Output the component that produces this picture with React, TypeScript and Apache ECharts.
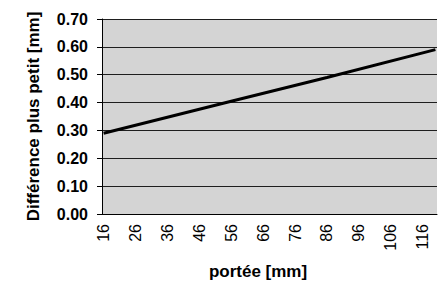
import React, { useEffect, useRef } from "react";
import * as echarts from "echarts";

// categories: span in mm, 16..120 (one tick per mm)
const spans: string[] = [];
for (let s = 16; s <= 120; s++) spans.push(String(s));

// values (straight line)
const lineSpans = ["16", "56", "86", "120"];
const lineValues = [0.29, 0.405, 0.49, 0.59];

const FONT = "Liberation Sans, Arial, sans-serif";

export default function App() {
  const ref = useRef<HTMLDivElement>(null);
  useEffect(() => {
    if (!ref.current) return;
    const chart = echarts.init(ref.current, null, { renderer: "svg" });
    chart.setOption({
      animation: false,
      backgroundColor: "#ffffff",
      grid: {
        left: 102,
        right: 2,
        top: 19,
        bottom: 67,
        outerBoundsMode: "none",
        containLabel: false,
        show: true,
        backgroundColor: "#d4d4d4",
        borderWidth: 0,
      },
      xAxis: {
        type: "category",
        data: spans,
        boundaryGap: true,
        name: "portée [mm]",
        nameLocation: "middle",
        nameGap: 49,
        nameMoveOverlap: false,
        nameTextStyle: {
          fontFamily: FONT,
          fontSize: 17,
          fontWeight: "bold",
          color: "#000",
          padding: [0, 23, 0, 0],
        },
        axisLine: { lineStyle: { color: "#000", width: 1 } },
        axisTick: { interval: 0, length: 4, lineStyle: { color: "#000" } },
        axisLabel: {
          interval: 9,
          rotate: 90,
          margin: 10,
          fontFamily: FONT,
          fontSize: 16,
          color: "#000",
        },
        splitLine: { show: false },
      },
      yAxis: {
        type: "value",
        min: 0,
        max: 0.7,
        interval: 0.1,
        name: "Différence plus petit [mm]",
        nameLocation: "middle",
        nameGap: 60,
        nameMoveOverlap: false,
        nameTextStyle: {
          fontFamily: FONT,
          fontSize: 17,
          fontWeight: "bold",
          color: "#000",
        },
        axisLine: { show: true, lineStyle: { color: "#000", width: 1 } },
        axisTick: { show: true, length: 5, lineStyle: { color: "#000" } },
        axisLabel: {
          margin: 14,
          fontFamily: FONT,
          fontSize: 16,
          fontWeight: "bold",
          color: "#000",
          formatter: (v: number) => v.toFixed(2),
        },
        splitLine: { show: true, lineStyle: { color: "#1e1e1e", width: 1 } },
      },
      series: [
        {
          type: "line",
          data: lineSpans.map((s, i) => [s, lineValues[i]]),
          symbol: "none",
          lineStyle: { color: "#000", width: 3 },
        },
      ],
    });
    return () => chart.dispose();
  }, []);
  return (
    <div
      ref={ref}
      style={{ position: "absolute", left: 0, top: 0, width: 439, height: 281 }}
    />
  );
}
